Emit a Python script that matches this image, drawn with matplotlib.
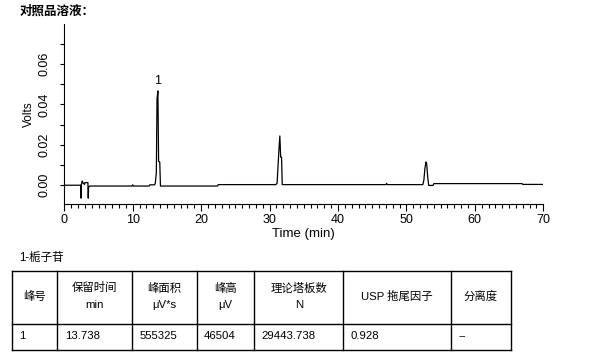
import matplotlib

matplotlib.use("Agg")
import matplotlib.pyplot as plt
from matplotlib.lines import Line2D
from matplotlib.ticker import MultipleLocator

plt.rcParams["font.family"] = ["Liberation Sans", "Noto Sans CJK SC"]

# ---- 色谱图数据（从图上读出的折点） ----
time_min = [0.0, 2.40, 2.44, 2.48, 2.62, 2.72, 2.95, 3.02, 3.45, 3.50, 3.55, 3.70,
            9.9, 10.0, 10.1, 12.4, 12.5, 13.2, 13.3, 13.45, 13.55, 13.68, 13.78,
            13.95, 14.05, 22.4, 22.5, 30.9, 31.1, 31.35, 31.5, 31.62, 31.75, 31.85,
            47.0, 47.1, 47.2, 52.4, 52.55, 52.7, 52.85, 52.95, 53.1, 53.25, 53.9,
            54.0, 66.9, 67.0, 70.0]
volts = [0.0, 0.0, -0.0064, 0.0, 0.0021, 0.0012, 0.0004, 0.0013, 0.0013, -0.0064,
         -0.0010, -0.0004, -0.0004, 0.0002, -0.0004, -0.0004, 0.0002, 0.0002,
         0.0010, 0.0062, 0.0427, 0.0467, 0.0118, 0.0115, -0.0004, -0.0004, 0.0003,
         0.0003, 0.0010, 0.0166, 0.0244, 0.0139, 0.0139, 0.0003, 0.0003, 0.0009,
         0.0003, 0.0003, 0.0026, 0.0084, 0.0115, 0.0109, 0.0043, -0.0001, -0.0001,
         0.0008, 0.0008, 0.0004, 0.0004]

peak_times = [13.68]
peak_heights = [0.0467]
peak_names = ["1"]

# ---- 表格内容 ----
compound_label = "1-栀子苷"
header_line1 = ["峰号", "保留时间", "峰面积", "峰高", "理论塔板数", "USP 拖尾因子", "分离度"]
header_line2 = ["", "min", "μV*s", "μV", "N", "", ""]
row_values = ["1", "13.738", "555325", "46504", "29443.738", "0.928", "--"]

W, H = 599, 356
fig = plt.figure(figsize=(W / 100, H / 100), dpi=100)


def fx(x):
    return x / W


def fy(y):
    return 1 - y / H


ax = fig.add_axes([fx(64.3), fy(204), fx(543.3) - fx(64.3), fy(23.7) - fy(204)])
ax.plot(time_min, volts, color="black", lw=0.9)
ax.set_xlim(0, 70)
ax.set_ylim(-0.0093, 0.080)

for spine in ["top", "right"]:
    ax.spines[spine].set_visible(False)
for spine in ["left", "bottom"]:
    ax.spines[spine].set_linewidth(0.8)

ax.xaxis.set_major_locator(MultipleLocator(10))
ax.xaxis.set_minor_locator(MultipleLocator(1))
ax.set_yticks([0.00, 0.02, 0.04, 0.06])
ax.set_yticks([0.01, 0.03, 0.05, 0.07], minor=True)
ax.tick_params(axis="x", which="major", length=5, width=0.8, pad=2.5, labelsize=9)
ax.tick_params(axis="x", which="minor", length=3, width=0.8)
ax.tick_params(axis="y", which="both", length=2.8, width=0.8)
ax.tick_params(axis="y", which="major", pad=7, labelsize=9)
ax.set_yticklabels(["%.2f" % v for v in [0.00, 0.02, 0.04, 0.06]],
                   rotation=90, va="center")

ax.set_xlabel("Time (min)", fontsize=9.5, labelpad=1.5)
ax.set_ylabel("Volts", fontsize=8.5, labelpad=3)

for t, h, name in zip(peak_times, peak_heights, peak_names):
    ax.annotate(name, (t, h), xytext=(0, 2.5), textcoords="offset points",
                ha="center", va="bottom", fontsize=9)

fig.text(fx(20), fy(12), "对照品溶液：", fontsize=9, fontweight="bold",
         ha="left", va="center")

# ---- 表格 ----
fig.text(fx(19), fy(258), compound_label, fontsize=8.3, ha="left", va="center")

col_edges = [11.7, 57.3, 132.3, 196.7, 254.3, 343.3, 450.7, 510.7]
row_edges = [271, 324, 350]
for y in row_edges:
    fig.add_artist(Line2D([fx(col_edges[0]), fx(col_edges[-1])], [fy(y), fy(y)],
                          color="black", lw=1.0, transform=fig.transFigure))
for x in col_edges:
    fig.add_artist(Line2D([fx(x), fx(x)], [fy(row_edges[0]), fy(row_edges[-1])],
                          color="black", lw=1.0, transform=fig.transFigure))

for i in range(len(header_line1)):
    xc = (col_edges[i] + col_edges[i + 1]) / 2
    if header_line2[i]:
        fig.text(fx(xc), fy(288), header_line1[i], fontsize=8.2, ha="center", va="center")
        fig.text(fx(xc), fy(305), header_line2[i], fontsize=8.2, ha="center", va="center")
    else:
        fig.text(fx(xc), fy(296), header_line1[i], fontsize=8.2, ha="center", va="center")
    fig.text(fx(col_edges[i] + 7.3), fy(336), row_values[i], fontsize=8.2,
             ha="left", va="center")

fig.savefig("out.png", dpi=100)
